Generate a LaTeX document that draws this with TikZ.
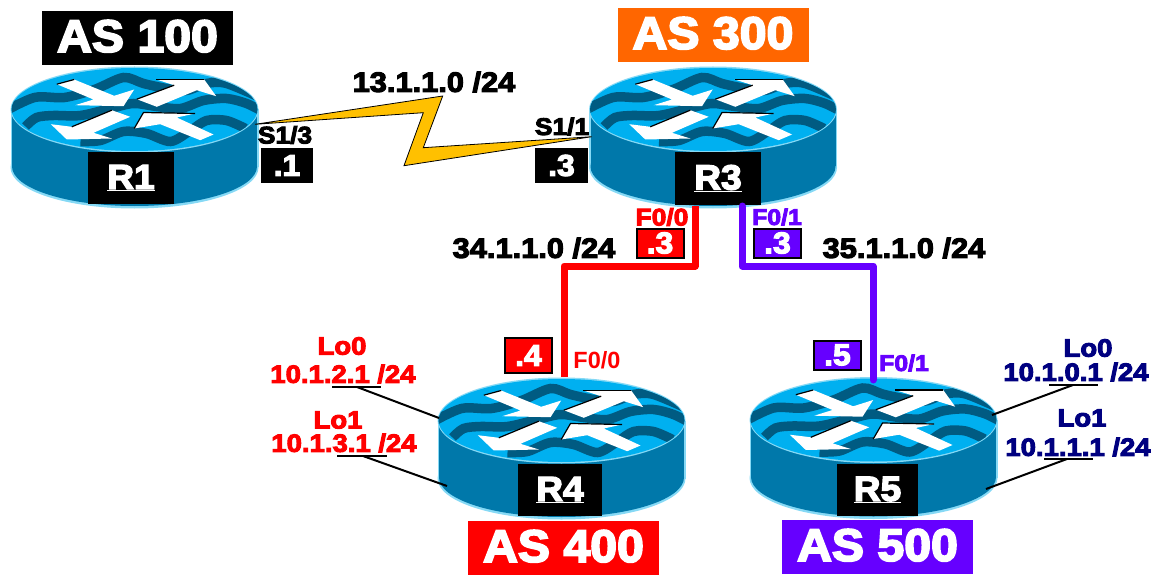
\documentclass[tikz,border=0pt]{standalone}
\usepackage{fontspec}
\usepackage{tikz}
\newfontfamily\netfont[FakeBold=4,FakeStretch=1.06]{Liberation Sans Bold}
\newfontfamily\widefont[FakeBold=4,FakeStretch=1.1]{Liberation Sans Bold}

\definecolor{rtrlight}{HTML}{00B0F0}
\definecolor{rtrdark}{HTML}{005B82}
\definecolor{rtrside}{HTML}{0078AA}
\definecolor{rtrrim}{HTML}{86D9F5}
\definecolor{lanred}{HTML}{FF0000}
\definecolor{lanviolet}{HTML}{6600FF}
\definecolor{asorange}{HTML}{FF6600}
\definecolor{loblue}{HTML}{000080}
\definecolor{wanyellow}{HTML}{FFC000}

\tikzset{
  asbox/.style={text=white, minimum width=191pt, minimum height=54pt, inner sep=0pt, text depth=4pt, font=\netfont\fontsize{45.5}{46}\selectfont},
  rtrbox/.style={fill=black, text=white, minimum height=52pt, inner sep=0pt, font=\netfont\fontsize{35}{35}\selectfont},
  ipbox/.style={text=white, inner sep=0pt, font=\netfont\fontsize{30}{30}\selectfont},
  subnet/.style={inner sep=0pt, font=\widefont\fontsize{28}{28}\selectfont},
  ifname/.style={inner sep=0pt, font=\widefont\fontsize{24}{24}\selectfont},
  loopname/.style={inner sep=0pt, font=\widefont\fontsize{25}{25}\selectfont},
  wave/.style={rtrdark, line width=9.5pt},
  rtrarrow/.style={fill=white, draw=none},
  rtredge/.style={black, line width=1.2pt},
  router/.pic={
    % body and lid
    \fill[rtrrim] (0,58) ellipse [x radius=124, y radius=41];
    \fill[rtrrim] (-124,0) rectangle (124,58);
    \fill[rtrside] (0,57) ellipse [x radius=122.5, y radius=39.5];
    \fill[rtrside] (-122.5,0) rectangle (122.5,57);
    \fill[rtrrim] (0,0) ellipse [x radius=124, y radius=43];
    \begin{scope}
      \clip (0,0) ellipse [x radius=123, y radius=41.5];
      \fill[rtrlight] (-124,-43) rectangle (124,43);
      % waves on the lid
      \draw[wave] plot[smooth] coordinates {(-130,2) (-100,-12) (-70,-12) (-40,-20) (-11,-32) (9,-26) (32,-21) (52,-19) (72,-26) (92,-26) (130,-10)};
      \draw[wave] plot[smooth] coordinates {(-109,17) (-98,8) (-81,6) (-54,6) (-24,-1) (-1,-6) (22,-3) (46,-1) (69,-9) (92,-11) (112,-6) (130,3)};
      \draw[wave] plot[smooth] coordinates {(-54,32) (-34,31) (-11,22) (12,24) (36,32) (56,21) (72,11) (92,11) (111,19)};
    \end{scope}
    % four arrows
    \fill[rtrarrow] (-77.7,-25.3) -- (-60.3,-30) -- (-20.3,-13.7) -- (-0.3,-20) -- (-11,-3.3) -- (-59.3,-4.3) -- (-41,-10) -- cycle;
    \draw[rtredge] (-77.7,-25.3) -- (-60.3,-30);
    \fill[rtrarrow] (2.3,-10.3) -- (39.7,-24.3) -- (21.7,-30) -- (69.7,-30) -- (81.7,-13.3) -- (62.3,-19.3) -- (22.3,-2.7) -- cycle;
    \draw[rtredge] (2.3,-10.3) -- (39.7,-24.3);
    \draw[rtredge] (21.7,-30) -- (69.7,-30);
    \fill[rtrarrow] (-4.3,7.3) -- (-22.7,0.7) -- (-62.7,17.3) -- (-83.7,14.7) -- (-67.7,30) -- (-22.7,29) -- (-41,23.3) -- cycle;
    \draw[rtredge] (-22.7,0.7) -- (-62.7,17.3);
    \fill[rtrarrow] (79,25) -- (65.7,30.7) -- (25.7,14.7) -- (-0.3,19) -- (9,3) -- (60.7,4) -- (42.3,8) -- cycle;
    \draw[rtredge] (-0.3,19) -- (9,3) -- (60.7,4);
  }
}

\begin{document}
\begin{tikzpicture}[x=1pt, y=-1pt, line width=2pt]
    \useasboundingbox (0,0) rectangle (1157,575);

    % routers
    \pic (R1) at (134.5,109.5) {router};
    \pic (R3) at (713,109.5) {router};
    \pic (R4) at (561.5,420.5) {router};
    \pic (R5) at (873.5,420) {router};

    % router names
    \node[rtrbox, minimum width=86pt] (nameR1) at (131,178) {\underline{R1}};
    \node[rtrbox, minimum width=86pt] (nameR3) at (718,178.5) {\underline{R3}};
    \node[rtrbox, minimum width=84pt] (nameR4) at (560,490) {\underline{R4}};
    \node[rtrbox, minimum width=81pt] (nameR5) at (877.5,490) {\underline{R5}};

    % AS boxes
    \node[asbox, fill=black] (as100) at (137.5,38) {AS 100};
    \node[asbox, fill=asorange] (as300) at (713,35) {AS 300};
    \node[asbox, fill=lanred] (as400) at (563.5,548) {AS 400};
    \node[asbox, fill=lanviolet] (as500) at (877.5,547) {AS 500};

    % serial link
    \coordinate (boltA) at (255,124.3);
    \coordinate (boltB) at (442.7,96);
    \coordinate (boltC) at (423.3,147.7);
    \coordinate (boltD) at (591.7,136.7);
    \coordinate (boltE) at (404,165.7);
    \coordinate (boltF) at (423.3,112.7);
    \filldraw[fill=wanyellow, draw=black, line width=0.8pt, line join=miter] (boltA) -- (boltB) -- (boltC) -- (boltD) -- (boltE) -- (boltF) -- cycle;

    % ethernet links
    \coordinate (r3f00) at (695,206);
    \coordinate (r4f00) at (564,377);
    \coordinate (lan34) at (630,266);
    \draw[lanred, line width=7pt, line join=round] (r3f00) |- (lan34) -| (r4f00);
    \coordinate (r3f01) at (742,206);
    \coordinate (r5f01) at (873,380);
    \coordinate (lan35) at (800,266);
    \draw[lanviolet, line width=7pt, line join=round, line cap=round] (r3f01) |- (lan35) -| (r5f01);

    % subnets
    \node[subnet] (net13) at (434,82) {13.1.1.0 /24};
    \node[subnet] (net34) at (534,248) {34.1.1.0 /24};
    \node[subnet] (net35) at (904,248) {35.1.1.0 /24};

    % interfaces and addresses
    \node[ifname] (ifR1) at (285,135) {S1/3};
    \node[ipbox, fill=black, minimum width=52pt, minimum height=35pt] (ipR1) at (287,165.5) {.1};
    \node[ifname] (ifR3s) at (562,126.5) {S1/1};
    \node[ipbox, fill=black, minimum width=53pt, minimum height=35pt] (ipR3s) at (561.5,165.5) {.3};
    \node[ifname, text=lanred] (ifR3a) at (662,217) {F0/0};
    \node[ipbox, fill=lanred, draw=black, minimum width=47pt, minimum height=29pt] (ipR3a) at (660,243) {.3};
    \node[ifname, text=lanviolet, font=\widefont\fontsize{22.5}{23}\selectfont] (ifR3b) at (777,217) {F0/1};
    \node[ipbox, fill=lanviolet, draw=black, minimum width=47pt, minimum height=29pt] (ipR3b) at (777.5,243) {.3};
    \node[ipbox, fill=lanred, draw=black, minimum width=47pt, minimum height=35pt] (ipR4) at (528.5,355.5) {.4};
    \node[ifname, text=lanred, font=\fontspec{Liberation Sans Bold}\fontsize{23.5}{24}\selectfont] (ifR4) at (597,360) {F0/0};
    \node[ipbox, fill=lanviolet, draw=black, minimum width=47pt, minimum height=29pt] (ipR5) at (837.5,355) {.5};
    \node[ifname, text=lanviolet, font=\widefont\fontsize{22.5}{23}\selectfont] (ifR5) at (904,363) {F0/1};

    % loopbacks of R4
    \node[loopname, text=lanred] (lo0R4) at (342,346) {Lo0};
    \node[loopname, text=lanred] (addr0R4) at (343,374) {10.1.2.1 /24};
    \node[loopname, text=lanred] (lo1R4) at (338,420) {Lo1};
    \node[loopname, text=lanred] (addr1R4) at (344,443) {10.1.3.1 /24};
    \coordinate (bar0a) at (332,387);
    \coordinate (bar0b) at (381,387);
    \coordinate (bar0c) at (357,387);
    \coordinate (port0R4) at (439,418);
    \coordinate (bar1a) at (337,456);
    \coordinate (bar1b) at (387,456);
    \coordinate (bar1c) at (363,456);
    \coordinate (port1R4) at (447,486);
    \draw (bar0a) -- (bar0b);
    \draw (bar0c) -- (port0R4);
    \draw (bar1a) -- (bar1b);
    \draw (bar1c) -- (port1R4);

    % loopbacks of R5
    \node[loopname, text=loblue] (lo0R5) at (1088,348) {Lo0};
    \node[loopname, text=loblue] (addr0R5) at (1076,372) {10.1.0.1 /24};
    \node[loopname, text=loblue] (lo1R5) at (1082,418) {Lo1};
    \node[loopname, text=loblue] (addr1R5) at (1078,447) {10.1.1.1 /24};
    \coordinate (bar2a) at (1049,385);
    \coordinate (bar2b) at (1098,385);
    \coordinate (bar2c) at (1073,385);
    \coordinate (port0R5) at (992,415);
    \coordinate (bar3a) at (1044,459);
    \coordinate (bar3b) at (1093,459);
    \coordinate (bar3c) at (1067,459);
    \coordinate (port1R5) at (986,489);
    \draw (bar2a) -- (bar2b);
    \draw (bar2c) -- (port0R5);
    \draw (bar3a) -- (bar3b);
    \draw (bar3c) -- (port1R5);
\end{tikzpicture}
\end{document}
